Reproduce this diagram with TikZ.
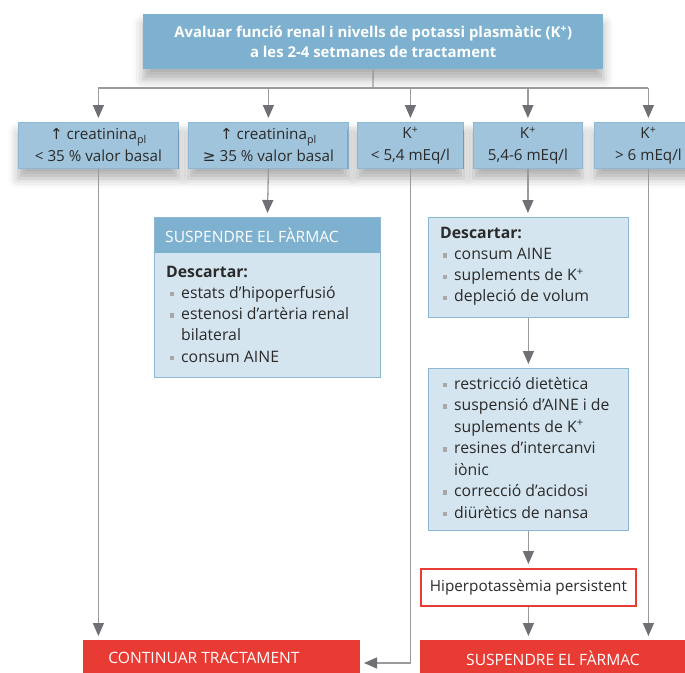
\documentclass[tikz,border=0pt]{standalone}
\usepackage{fontspec}
\setmainfont{Open Sans}
\newfontfamily\symf{DejaVu Sans}
\usetikzlibrary{arrows.meta,shadows.blur}
\definecolor{topblue}{HTML}{7EB1CF}
\definecolor{rowblue}{HTML}{A0C4DB}
\definecolor{rowborder}{HTML}{8CB8D3}
\definecolor{lightblue}{HTML}{D5E5EF}
\definecolor{lineg}{HTML}{9A9A9A}
\definecolor{headg}{HTML}{6E7074}
\definecolor{redc}{HTML}{E83B33}
\definecolor{txt}{HTML}{2A2A2A}
\definecolor{bulg}{HTML}{A8A8A8}
\newcommand\bsq{\makebox[11pt][l]{\textcolor{bulg}{\rule[2pt]{4.2pt}{4.2pt}}}}
\newcommand\bodyf{\fontsize{15.8}{21}\selectfont}
\begin{document}
\begin{tikzpicture}[x=1pt,y=-1pt,
  every node/.style={text=txt, inner sep=0pt},
  shd/.style={blur shadow={shadow xshift=0pt, shadow yshift=-10pt, shadow blur radius=10pt, shadow opacity=32}},
  topbox/.style={fill=topblue, anchor=north west, text=white, font=\fontsize{14.9}{19.5}\selectfont\bfseries, align=center, shd},
  rowbox/.style={fill=rowblue, draw=rowborder, line width=0.8pt, anchor=north west, align=center, font=\fontsize{15.2}{22}\selectfont, minimum height=46, shd},
  listbox/.style={fill=lightblue, draw=rowborder, line width=0.8pt, anchor=north west},
  ln/.style={anchor=base west, font=\bodyf},
  conn/.style={draw=lineg, line width=1.3pt, -{Triangle[width=11pt,length=13pt,color=headg]}, shorten >=4pt},
  plain/.style={draw=lineg, line width=1.3pt},
  redbox/.style={fill=redc, anchor=north west, minimum height=50},
  whitetxt/.style={text=white, font=\fontsize{15.6}{18}\selectfont},
]
\useasboundingbox (0,0) rectangle (685,672);
\clip (0,0) rectangle (685,672);

% top
\node[topbox, minimum width=460, minimum height=55] (top) at (143,14)
  {Avaluar funció renal i nivells de potassi plasmàtic (K\textsuperscript{+})\\a les 2-4 setmanes de tractament};

% row boxes
\node[rowbox, minimum width=160] (b1) at (18,122) {{\symf ↑} creatinina\textsubscript{pl}\\< 35 \% valor basal};
\node[rowbox, minimum width=160] (b2) at (188,122) {{\symf ↑} creatinina\textsubscript{pl}\\{\symf ≥} 35 \% valor basal};
\node[rowbox, minimum width=106] (b3) at (357,122) {K\textsuperscript{+}\\< 5,4 mEq/l};
\node[rowbox, minimum width=109] (b4) at (473,122) {K\textsuperscript{+}\\5,4-6 mEq/l};
\node[rowbox, minimum width=108] (b5) at (594,122) {K\textsuperscript{+}\\> 6 mEq/l};

% left list box
\node[listbox, minimum width=226, minimum height=160] (susp) at (154,217) {};
\node[fill=topblue, anchor=north west, minimum width=226, minimum height=36] (susph) at (154,217) {};
\draw[rowborder, line width=0.8pt] (susp.north west) rectangle (susp.south east);
\node[anchor=west, whitetxt] (suspt) at (165,235) {SUSPENDRE EL FÀRMAC};
\node[ln, font=\bodyf\bfseries] (la0) at (166,277) {Descartar:};
\node[ln] (la1) at (170,298.25) {\bsq estats d’hipoperfusió};
\node[ln] (la2) at (170,319.5) {\bsq estenosi d’artèria renal};
\node[ln] (la3) at (181,340.75) {bilateral};
\node[ln] (la4) at (170,362) {\bsq consum AINE};

% right list box 1
\node[listbox, minimum width=200, minimum height=100] (d1) at (428,217) {};
\node[ln, font=\bodyf\bfseries] (lb0) at (440,238.5) {Descartar:};
\node[ln] (lb1) at (443,259.6) {\bsq consum AINE};
\node[ln] (lb2) at (443,280.7) {\bsq suplements de K\textsuperscript{+}};
\node[ln] (lb3) at (443,301.8) {\bsq depleció de volum};

% right list box 2
\node[listbox, minimum width=200, minimum height=162] (t1) at (428,368) {};
\node[ln] (lc1) at (443,389) {\bsq restricció dietètica};
\node[ln] (lc2) at (443,410.5) {\bsq suspensió d’AINE i de};
\node[ln] (lc3) at (454,432) {suplements de K\textsuperscript{+}};
\node[ln] (lc4) at (443,453.5) {\bsq resines d’intercanvi};
\node[ln] (lc5) at (454,475) {iònic};
\node[ln] (lc6) at (443,496.5) {\bsq correcció d’acidosi};
\node[ln] (lc7) at (443,518) {\bsq diürètics de nansa};

% hiperpotassemia
\node[draw=redc, line width=1.8pt, fill=white, anchor=north west, minimum width=215, minimum height=37, font=\fontsize{15.3}{18}\selectfont] (hip) at (420,568) {Hiperpotassèmia persistent};

% red boxes
\node[redbox, minimum width=277] (cont) at (83,640) {};
\node[whitetxt] (contt) at (204,658) {CONTINUAR TRACTAMENT};
\node[redbox, minimum width=270] (susp2) at (420,640) {};
\node[whitetxt] (susp2t) at (553,658) {SUSPENDRE EL FÀRMAC};

% connectors
\coordinate (hub) at (373,88);
\coordinate (contin) at (360,663);
\draw[plain] (top.south) -- (hub);
\draw[plain] (b1.north |- hub) -- (b5.north |- hub);
\foreach \b in {b1,b2,b3,b4,b5} \draw[conn] (\b.north |- hub) -- (\b.north);
\draw[conn] (b1.south) -- (b1.south |- cont.north);
\draw[conn] (b2.south) -- (susp.north);
\draw[conn] (b3.south) |- (contin);
\draw[conn] (b4.south) -- (b4.south |- d1.north);
\draw[conn] (d1.south) -- (t1.north);
\draw[conn] (t1.south) -- (hip.north);
\draw[conn] (hip.south) -- (hip.south |- susp2.north);
\draw[conn] (b5.south) -- (b5.south |- susp2.north);
\end{tikzpicture}
\end{document}
